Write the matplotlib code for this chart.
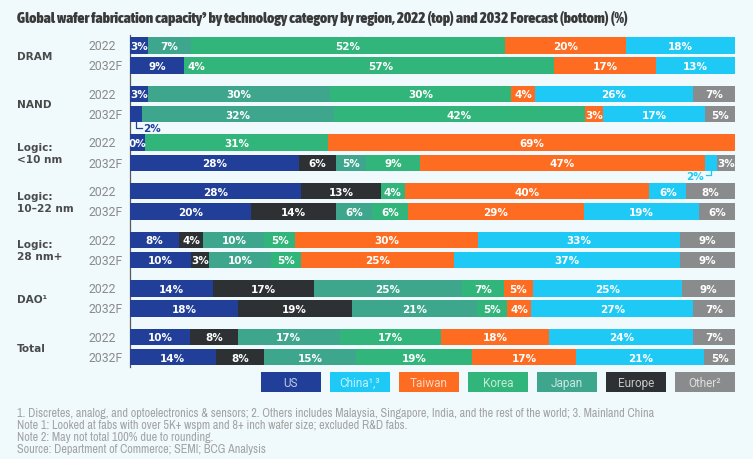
import matplotlib
matplotlib.use("Agg")
import matplotlib.pyplot as plt
from matplotlib import font_manager
from matplotlib.transforms import Affine2D
from matplotlib.patches import Rectangle

# ---------------- data ----------------
categories = ["DRAM", "NAND", "Logic:\n<10 nm", "Logic:\n10\u201322 nm", "Logic:\n28 nm+", "DAO\u00b9", "Total"]
years = ["2022", "2032F"]
# one entry per (category, year): 2022 then 2032F
us     = [3, 9, 3, 2, 0, 28, 28, 20, 8, 10, 14, 18, 10, 14]
europe = [0, 0, 0, 0, 0, 6, 13, 14, 4, 3, 17, 19, 8, 8]
japan  = [7, 4, 30, 32, 0, 5, 0, 6, 10, 10, 25, 21, 17, 15]
korea  = [52, 57, 30, 42, 31, 9, 4, 6, 5, 5, 7, 5, 17, 19]
taiwan = [20, 17, 4, 3, 69, 47, 40, 29, 30, 25, 5, 4, 18, 17]
china  = [18, 13, 26, 17, 0, 2, 6, 19, 33, 37, 25, 27, 24, 21]
other  = [0, 0, 7, 5, 0, 3, 8, 6, 9, 9, 9, 7, 7, 5]

stack_order = ["US", "Europe", "Japan", "Korea", "Taiwan", "China", "Other"]
series = {"US": us, "Europe": europe, "Japan": japan, "Korea": korea,
          "Taiwan": taiwan, "China": china, "Other": other}
legend_order = ["US", "China", "Taiwan", "Korea", "Japan", "Europe", "Other"]
legend_labels = ["US", "China\u00b9,\u00b3", "Taiwan", "Korea", "Japan", "Europe", "Other\u00b2"]

colors = {"US": "#213f98", "China": "#1fc9f5", "Taiwan": "#fe6c21", "Korea": "#31b57a",
          "Japan": "#3ea68d", "Europe": "#2d3134", "Other": "#8a8b8d"}
# cells drawn in another colour in the original
color_override = {(1, "Japan"): colors["Korea"]}
# zero-valued cells that still carry a label (drawn with a small visible width)
zero_labeled = {(4, "US")}
zero_width = 2.6
# small segments labelled outside the bar
outside = {(3, "US"): "right", (5, "China"): "left"}

title = ("Global wafer fabrication capacity\u2079 by technology category by region, "
         "2022 (top) and 2032 Forecast (bottom) (%)")
footnotes = [
    "1. Discretes, analog, and optoelectronics & sensors; 2. Others includes Malaysia, Singapore, India, and the rest of the world; 3. Mainland China",
    "Note 1: Looked at fabs with over 5K+ wspm and 8+ inch wafer size; excluded R&D fabs.",
    "Note 2: May not total 100% due to rounding.",
    "Source: Department of Commerce; SEMI; BCG Analysis",
]

# ---------------- fonts ----------------
fl = font_manager.fontManager.ttflist
avail = {f.name for f in fl}

def is_cond(f):
    return ("Condensed" in f.name or "Narrow" in f.name
            or str(f.stretch) in ("condensed", "semi-condensed", "extra-condensed"))

def is_bold(f):
    return f.weight in ("bold", "heavy", "black") or (isinstance(f.weight, int) and f.weight >= 700)

cond_fonts = [f for f in fl if is_cond(f) and f.style == "normal"]
cond_names = sorted({f.name for f in cond_fonts})
cond_bold_files = sorted([f for f in cond_fonts if is_bold(f)], key=lambda f: f.name)
reg = "Roboto" if "Roboto" in avail else "DejaVu Sans"
narrow = cond_names[0] if cond_names else reg
title_font = (font_manager.FontProperties(fname=cond_bold_files[0].fname)
              if cond_bold_files else font_manager.FontProperties(family=narrow, weight="bold"))

# ---------------- layout ----------------
W, H = 753, 460
BG = "#f0fafd"
fig = plt.figure(figsize=(W / 100, H / 100), dpi=100, facecolor=BG)
px = Affine2D().scale(1 / W, -1 / H).translate(0, 1) + fig.transFigure

X0, X1 = 130, 735
Y_TOP, Y_BOT = 30, 372
ax = fig.add_axes([X0 / W, 1 - Y_BOT / H, (X1 - X0) / W, (Y_BOT - Y_TOP) / H])
ax.set_xlim(0, 100)
ax.set_ylim(Y_BOT, Y_TOP)
ax.axis("off")
ax.patch.set_alpha(0)

first_c, step, pair, bh = 46.3, 48.6, 20.2, 16.4
unit = 100 / (X1 - X0)  # data units per pixel

ax.plot([0, 0], [36, 368], color="#5a5a5a", lw=0.9, clip_on=False, zorder=1)

for i, cat in enumerate(categories):
    c0 = first_c + step * i
    for j, yr in enumerate(years):
        k = 2 * i + j
        yc = c0 + pair * j
        vals = [series[r][k] for r in stack_order]
        widths = []
        for r, v in zip(stack_order, vals):
            if v == 0 and (k, r) in zero_labeled:
                widths.append(zero_width)
            else:
                widths.append(v)
        tot = sum(widths)
        widths = [w / tot * 100 for w in widths]
        left = 0
        for r, v, w in zip(stack_order, vals, widths):
            if w <= 0:
                continue
            col = color_override.get((k, r), colors[r])
            ax.barh(yc, w, left=left, height=bh, color=col, edgecolor="none", zorder=2)
            cx = left + w / 2
            if (k, r) in outside:
                side = outside[(k, r)]
                yb = yc + bh / 2
                lc = colors[r]
                if side == "right":
                    ax.plot([cx, cx, cx + 6 * unit], [yb, yb + 6, yb + 6], color=lc, lw=0.9,
                            clip_on=False, zorder=3)
                    ax.text(cx + 7.5 * unit, yb + 6, f"{v}%", color=lc, fontsize=7.5,
                            fontweight="bold", ha="left", va="center", family="DejaVu Sans")
                else:
                    ax.plot([cx, cx, cx - 5 * unit], [yb, yb + 4.5, yb + 4.5], color=lc, lw=0.9,
                            clip_on=False, zorder=3)
                    ax.text(cx - 6.5 * unit, yb + 5, f"{v}%", color=lc, fontsize=7.5,
                            fontweight="bold", ha="right", va="center", family="DejaVu Sans")
            elif v > 0 or (k, r) in zero_labeled:
                ax.text(cx, yc + 0.5, f"{v}%", color="white", fontsize=7.5, fontweight="bold",
                        ha="center", va="center", family="DejaVu Sans", zorder=4)
            left += w
        fig.text(89, yc + 0.5, yr, transform=px, ha="left", va="center", color="#8a8a8a",
                 fontsize=8.8, family=reg)
    fig.text(17, c0 + pair / 2 + 0.5, cat, transform=px, ha="left", va="center",
             color="#4a4a4a", fontsize=7.6, fontweight="bold", family="DejaVu Sans",
             linespacing=1.3)

# legend
for n, (r, lab) in enumerate(zip(legend_order, legend_labels)):
    x = 261 + 69 * n
    fig.add_artist(Rectangle((x, 373), 60, 20, transform=px, facecolor=colors[r],
                             edgecolor="none"))
    fig.text(x + 30, 383.5, lab, transform=px, ha="center", va="center", color="white",
             alpha=0.72, fontsize=8.5, family=reg)

# title & footnotes (font size fitted to the original text widths)
renderer = fig.canvas.get_renderer()

def fitted(x, y, s, target, **kw):
    t = fig.text(x, y, s, transform=px, ha="left", va="center", **kw)
    bb = t.get_window_extent(renderer)
    t.set_fontsize(t.get_fontsize() * target / bb.width)
    return t

tt = fig.text(17, 18, title, transform=px, ha="left", va="center", color="#3a3a3a",
              fontproperties=title_font)
tt.set_fontsize(11)
bb = tt.get_window_extent(renderer)
tt.set_fontsize(11 * 609 / bb.width)

t1 = fitted(17, 414, footnotes[0], 642, fontsize=7, color="#a3a3a3", family=[narrow, "DejaVu Sans"])
fs = t1.get_fontsize()
for n, line in enumerate(footnotes[1:], start=1):
    fig.text(17, 414 + 12 * n, line, transform=px, ha="left", va="center", color="#a3a3a3",
             fontsize=fs, family=[narrow, "DejaVu Sans"])

fig.savefig("out.png", dpi=100, facecolor=BG)
